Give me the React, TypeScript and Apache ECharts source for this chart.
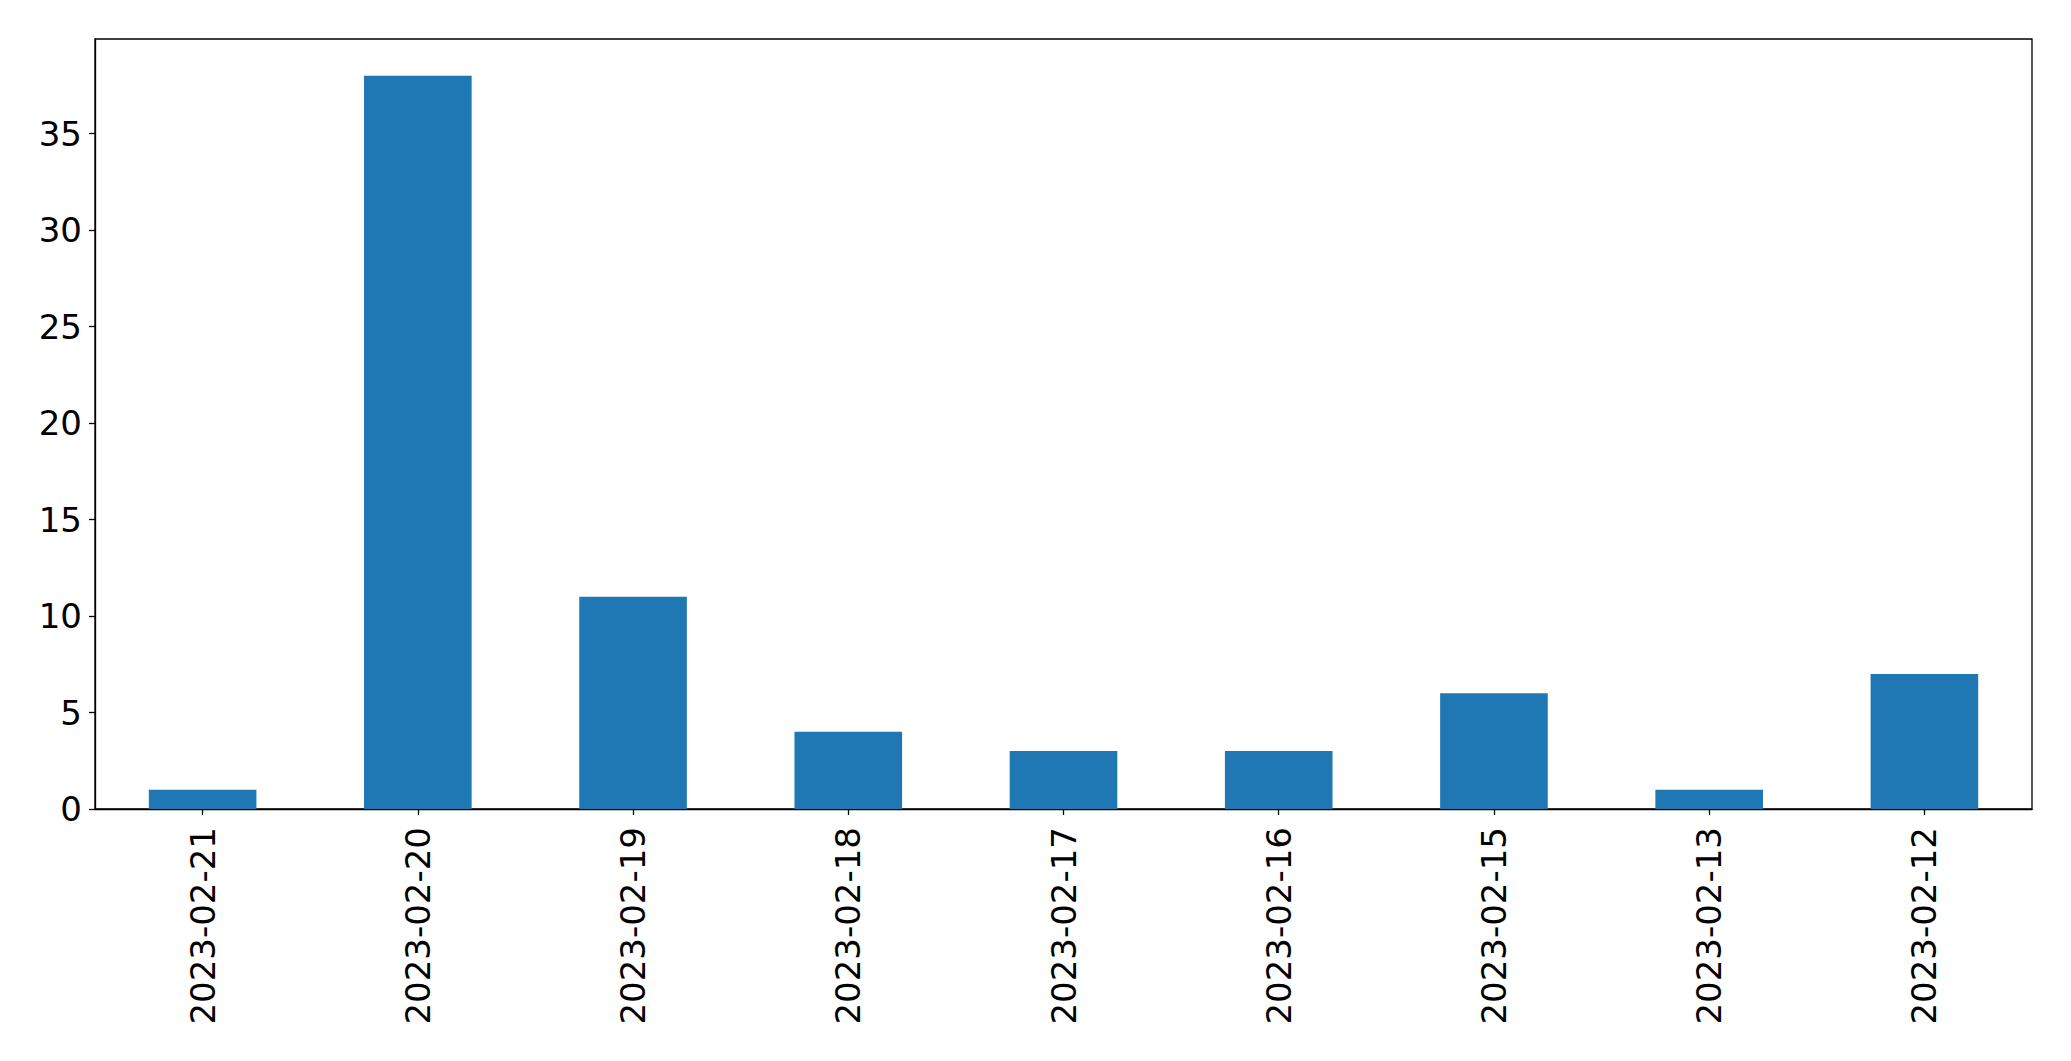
import React, { useEffect, useRef } from "react";
import * as echarts from "echarts";

const categories = [
  "2023-02-21",
  "2023-02-20",
  "2023-02-19",
  "2023-02-18",
  "2023-02-17",
  "2023-02-16",
  "2023-02-15",
  "2023-02-13",
  "2023-02-12",
];
const values = [1, 38, 11, 4, 3, 3, 6, 1, 7];
const yTicks = [0, 5, 10, 15, 20, 25, 30, 35];

export default function App() {
  const ref = useRef<HTMLDivElement>(null);
  useEffect(() => {
    document.body.style.margin = "0";
    if (!ref.current) return;
    const chart = echarts.init(ref.current, null, { renderer: "svg" });
    const font = "DejaVu Sans";
    chart.setOption({
      animation: false,
      backgroundColor: "#ffffff",
      grid: {
        left: 95,
        top: 39,
        width: 1937,
        height: 770,
        show: true,
        borderColor: "#000000",
        borderWidth: 1.3,
        backgroundColor: "transparent",
      },
      xAxis: {
        type: "category",
        data: categories,
        axisLine: { show: true, lineStyle: { color: "#000000", width: 1.3 } },
        axisTick: { show: true, alignWithLabel: true, length: 6, lineStyle: { color: "#000000", width: 1.3 } },
        axisLabel: {
          rotate: 90,
          margin: 18,
          fontSize: 34,
          fontFamily: font,
          color: "#000000",
          interval: 0,
        },
        splitLine: { show: false },
      },
      yAxis: {
        type: "value",
        min: 0,
        max: 39.9,
        interval: 5,
        axisLine: { show: true, lineStyle: { color: "#000000", width: 1.3 } },
        axisTick: {
          show: true,
          length: 6,
          customValues: yTicks,
          lineStyle: { color: "#000000", width: 1.3 },
        },
        axisLabel: {
          margin: 13,
          fontSize: 34,
          fontFamily: font,
          color: "#000000",
          customValues: yTicks,
        },
        splitLine: { show: false },
      },
      series: [
        {
          type: "bar",
          data: values,
          barWidth: "50%",
          itemStyle: { color: "#1f77b4" },
        },
      ],
    });
    return () => chart.dispose();
  }, []);
  return <div ref={ref} style={{ width: 2071, height: 1061 }} />;
}
